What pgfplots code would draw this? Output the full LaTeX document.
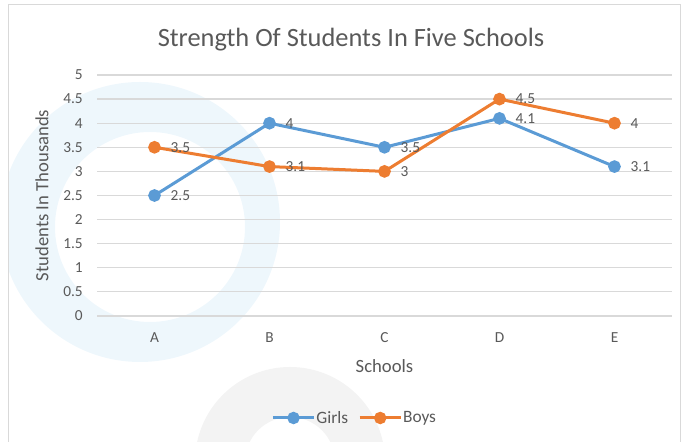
\documentclass[border=0pt]{standalone}
\usepackage{pgfplots}
\pgfplotsset{compat=1.18}
\usepackage{fontspec}
\setmainfont{Carlito}
\definecolor{txt}{HTML}{595959}
\definecolor{grd}{HTML}{D9D9D9}
\definecolor{girls}{HTML}{5B9BD5}
\definecolor{boys}{HTML}{ED7D31}
\definecolor{wmb}{HTML}{EEF7FC}
\definecolor{wmg}{HTML}{F3F3F3}
\begin{document}
\begin{tikzpicture}[x=0.75pt,y=0.75pt]
\useasboundingbox (0,0) rectangle (687,442);
% faint watermark
\begin{scope}
\clip (8,0) rectangle (680,437);
\fill[wmb, even odd rule] (140,220) circle (140) (150,215) circle (95);
\fill[wmg, even odd rule] (290,-20) circle (95) (290,-20) circle (45);
\end{scope}
\draw[grd, line width=0.75pt] (8,-5) -- (8,437) -- (680,437) -- (680,-5);
\node[text=txt, font=\fontsize{19.8}{22}\selectfont] at (351,402) {Strength Of Students In Five Schools};
\begin{axis}[
  at={(72.75pt,94.5pt)}, anchor=south west,
  scale only axis, width=431.25pt, height=180.75pt,
  xmin=-0.5, xmax=4.5, ymin=0, ymax=5,
  xtick={0,1,2,3,4}, xticklabels={A,B,C,D,E},
  ytick={0,0.5,...,5},
  /pgf/number format/fixed,
  /pgf/number format/precision=1,
  /pgf/number format/assume math mode=true,
  axis line style={draw=none},
  major tick length=0pt,
  ymajorgrids, grid style={grd, line width=0.9pt},
  tick label style={text=txt, font=\fontsize{11.5}{13}\selectfont},
  xticklabel style={anchor=center, yshift=-16.5pt},
  yticklabel style={anchor=east, inner sep=0pt, xshift=-10.5pt},
  xlabel={Schools}, ylabel={Students In Thousands},
  every axis x label/.style={at={(axis description cs:0.5,0)}, anchor=center, yshift=-37.5pt, text=txt, font=\fontsize{14}{16}\selectfont},
  every axis y label/.style={at={(axis description cs:0,0.5)}, rotate=90, anchor=center, yshift=41.25pt, text=txt, font=\fontsize{14}{16}\selectfont},
  legend style={at={(0.447,-0.4232)}, anchor=center, draw=none, fill=none,
    legend columns=2, font=\fontsize{13}{15}\selectfont, text=txt,
    /tikz/every even column/.append style={column sep=7pt},
    legend cell align=left,
    nodes={inner xsep=0.5pt}},
  legend image code/.code={
    \draw[#1, line width=2.25pt] (0pt,0pt) -- (31pt,0pt);
    \fill[#1] (15.5pt,0pt) circle (3.5pt);
  },
  nodes near coords,
  every node near coord/.append style={anchor=west, inner sep=0pt, xshift=11pt, text=txt, font=\fontsize{11.5}{13}\selectfont},
  clip=false,
]
\addplot[girls, line width=2.25pt, mark=*, mark size=3.6pt, mark options={girls}] coordinates {(0,2.5) (1,4) (2,3.5) (3,4.1) (4,3.1)};
\addlegendentry{Girls}
\addplot[boys, line width=2.25pt, mark=*, mark size=3.6pt, mark options={boys}] coordinates {(0,3.5) (1,3.1) (2,3) (3,4.5) (4,4)};
\addlegendentry{Boys}
\end{axis}
\end{tikzpicture}
\end{document}
